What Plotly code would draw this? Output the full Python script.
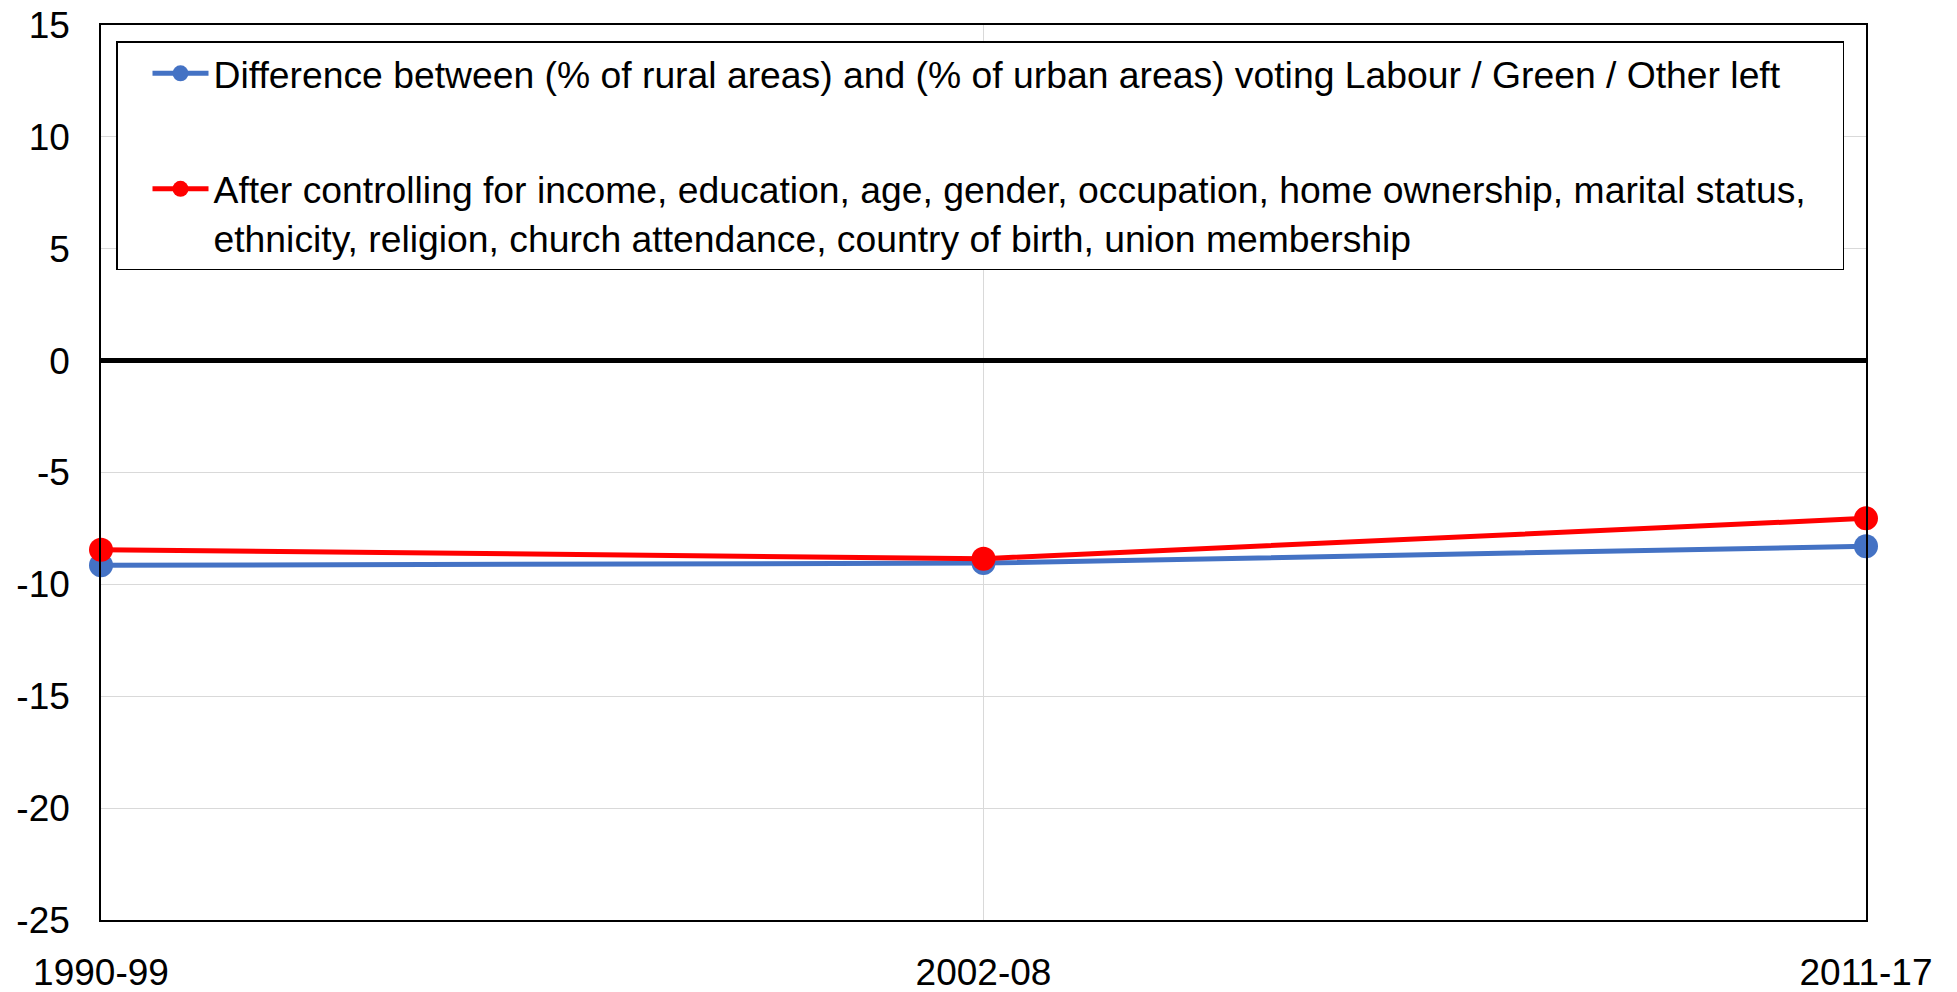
import plotly.graph_objects as go

periods = ["1990-99", "2002-08", "2011-17"]
raw_gap = [-9.15, -9.05, -8.3]
controlled_gap = [-8.45, -8.85, -7.05]
y_ticks = [15, 10, 5, 0, -5, -10, -15, -20, -25]
y_tick_text = ["15", "10", "5", "0", "-5", "-10", "-15", "-20", "-25"]

raw_name = ("Difference between (% of rural areas) and (% of urban areas) "
            "voting Labour / Green / Other left")
ctrl_name = ("After controlling for income, education, age, gender, occupation, "
             "home ownership, marital status,&nbsp;&nbsp;&nbsp;<br>ethnicity, religion, church "
             "attendance, country of birth, union membership")

fig = go.Figure()
fig.add_trace(go.Scatter(
    x=periods, y=raw_gap, name=raw_name, mode="lines+markers",
    line=dict(color="#4472c4", width=5),
    marker=dict(color="#4472c4", size=24),
    legendgroup="a", cliponaxis=False,
))
fig.add_trace(go.Scatter(
    x=periods, y=controlled_gap, name=ctrl_name, mode="lines+markers",
    line=dict(color="#ff0000", width=5),
    marker=dict(color="#ff0000", size=24),
    legendgroup="b", cliponaxis=False,
))

# the page body has an 8px margin, so the figure is sized to fit the window
fig.update_layout(
    width=1949, height=984,
    margin=dict(l=93, r=91, t=17, b=72),
    paper_bgcolor="white", plot_bgcolor="white",
    font=dict(family="Arial, Liberation Sans, sans-serif", size=37, color="black"),
    showlegend=True,
    legend=dict(
        x=0.0085, y=0.982, xanchor="left", yanchor="top",
        bordercolor="black", borderwidth=1.5, bgcolor="white",
        font=dict(size=37.3), traceorder="grouped", tracegroupgap=64,
        valign="top", itemwidth=56, indentation=30,
    ),
)
fig.update_xaxes(
    type="category", range=[0, 2], showgrid=True, gridcolor="#d9d9d9", gridwidth=1,
    showline=True, linecolor="black", linewidth=1.5, mirror=True,
    ticks="", ticklabelstandoff=19, tickfont=dict(size=37), automargin=False,
    ticklabeloverflow="allow",
)
fig.update_yaxes(
    range=[-25, 15], tickvals=y_ticks, ticktext=y_tick_text,
    showgrid=True, gridcolor="#d9d9d9", gridwidth=1,
    showline=True, linecolor="black", linewidth=1.5, mirror=True,
    zeroline=True, zerolinecolor="black", zerolinewidth=4.5,
    ticks="", ticklabelstandoff=22, tickfont=dict(size=37), automargin=False,
    ticklabeloverflow="allow",
)

fig.write_html("out.html")
